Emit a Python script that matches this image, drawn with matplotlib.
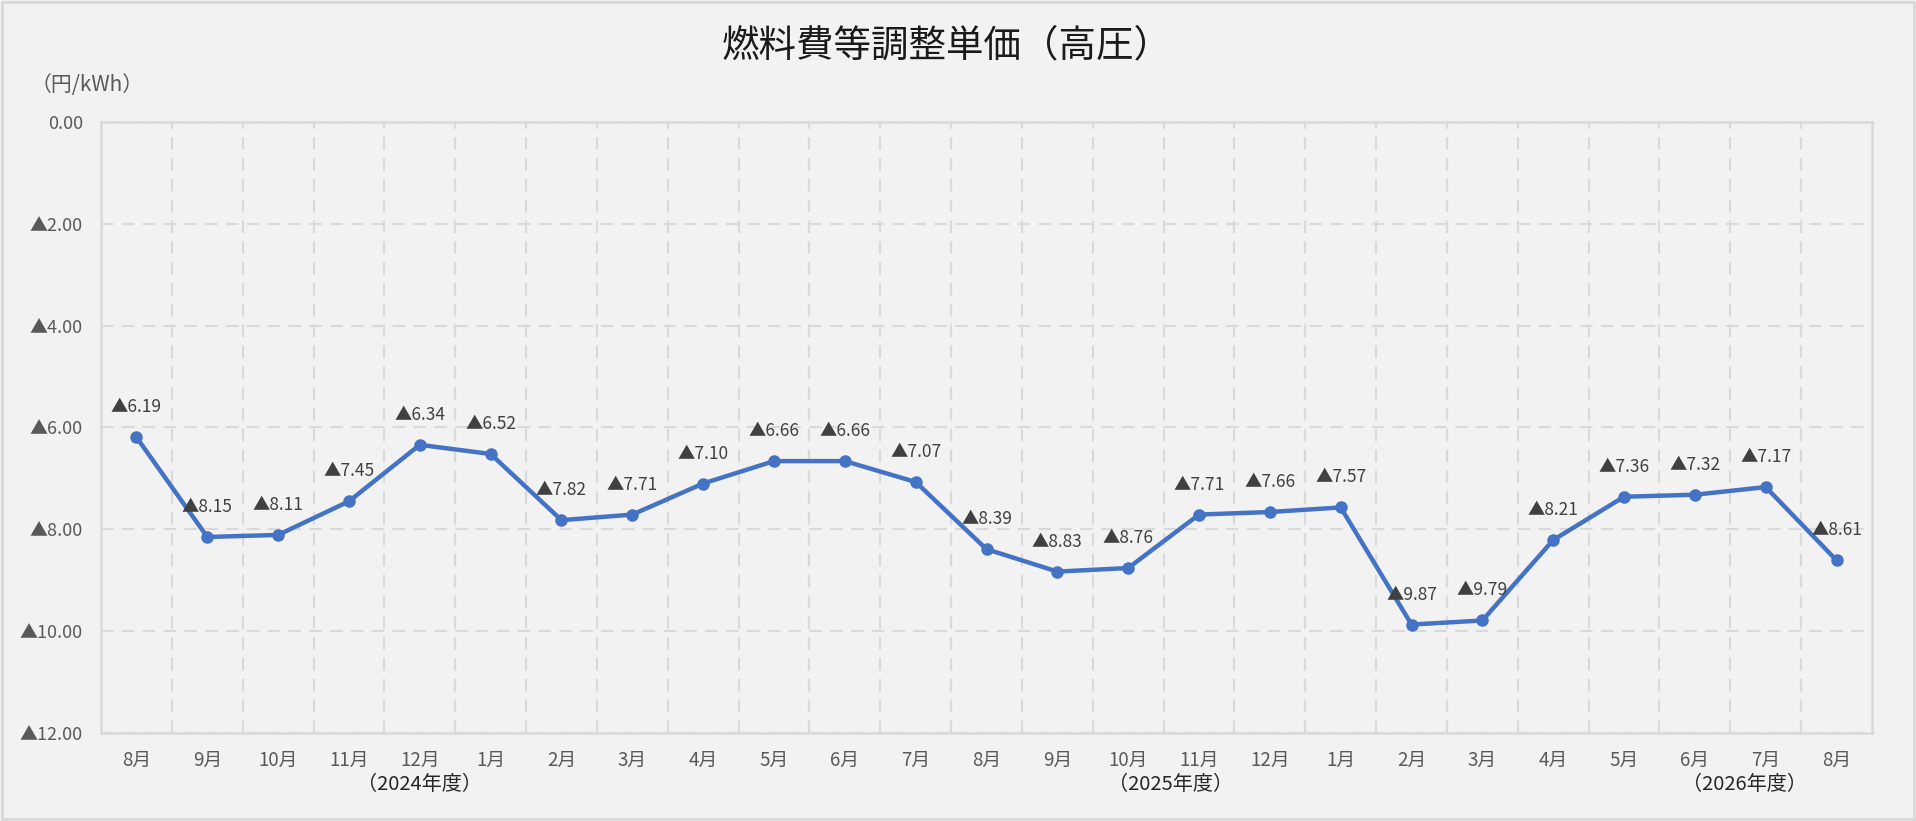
import matplotlib
matplotlib.use("Agg")
import matplotlib.pyplot as plt
from matplotlib.patches import Rectangle
from matplotlib.ticker import FixedLocator, FuncFormatter
import numpy as np

plt.rcParams['font.family'] = ['Noto Sans CJK JP', 'DejaVu Sans']

# data (negative values are shown with ▲)
months = ['8月', '9月', '10月', '11月', '12月', '1月', '2月', '3月', '4月',
          '5月', '6月', '7月', '8月', '9月', '10月', '11月', '12月', '1月',
          '2月', '3月', '4月', '5月', '6月', '7月', '8月']
values = [-6.19, -8.15, -8.11, -7.45, -6.34, -6.52, -7.82, -7.71, -7.10,
          -6.66, -6.66, -7.07, -8.39, -8.83, -8.76, -7.71, -7.66, -7.57,
          -9.87, -9.79, -8.21, -7.36, -7.32, -7.17, -8.61]
year_labels = ['（2024年度）', '（2025年度）', '（2026年度）']
year_at = [4.0, 14.6, 22.7]   # category position the label is centred on

BG = '#f2f2f2'
GRID = '#d9d9d9'
BLUE = '#4472C4'


def fmt(v, pos=None):
    if abs(v) < 1e-9:
        return '0.00'
    if v < 0:
        return f'▲{abs(v):.2f}'
    return f'{v:.2f}'


fig = plt.figure(figsize=(19.16, 8.21), dpi=100, facecolor=BG)
fig.patches.append(Rectangle((0.001, 0.002), 0.998, 0.996, transform=fig.transFigure,
                             fill=False, edgecolor=GRID, linewidth=2))

ax = fig.add_axes([101 / 1916, 1 - 733 / 821, (1872 - 101) / 1916, (733 - 122) / 821])
ax.set_facecolor(BG)

x = np.arange(len(values))
ax.plot(x, values, color=BLUE, linewidth=3.2, marker='o', markersize=8, zorder=3)

for xi, v in zip(x, values):
    ax.annotate(fmt(v), (xi, v), xytext=(0, 30), textcoords='offset pixels',
                ha='center', va='center', fontsize=12.5, color='#404040', zorder=4)

ax.set_xlim(-0.5, len(values) - 0.5)
ax.set_ylim(-12, 0)

ax.set_yticks(np.arange(-12, 0.1, 2))
ax.yaxis.set_major_formatter(FuncFormatter(fmt))
ax.set_xticks(x)
ax.set_xticklabels(months)
ax.xaxis.set_minor_locator(FixedLocator(np.arange(0.5, len(values) - 1, 1)))

ax.tick_params(axis='both', which='both', length=0, colors='#595959')
ax.tick_params(axis='x', pad=12, labelsize=13.5)
ax.tick_params(axis='y', pad=13, labelsize=13)

ax.grid(axis='y', which='major', color=GRID, linestyle=(0, (6, 4)), linewidth=1.5)
ax.grid(axis='x', which='minor', color=GRID, linestyle=(0, (6, 4)), linewidth=1.5)
ax.set_axisbelow(True)
for s in ax.spines.values():
    s.set_color(GRID)
    s.set_linewidth(1.8)

# fiscal-year labels under the month labels
for lbl, i in zip(year_labels, year_at):
    ax.annotate(lbl, (i, -12), xytext=(0, -52), textcoords='offset pixels',
                ha='center', va='center', fontsize=14.5, color='#262626')

fig.text(0.494, 1 - 46 / 821, '燃料費等調整単価（高圧）', ha='center', va='center',
         fontsize=27, color='#1a1a1a')
fig.text(87 / 1916, 1 - 85 / 821, '（円/kWh）', ha='center', va='center',
         fontsize=15, color='#595959')

fig.savefig('out.png', dpi=100, facecolor=BG)
